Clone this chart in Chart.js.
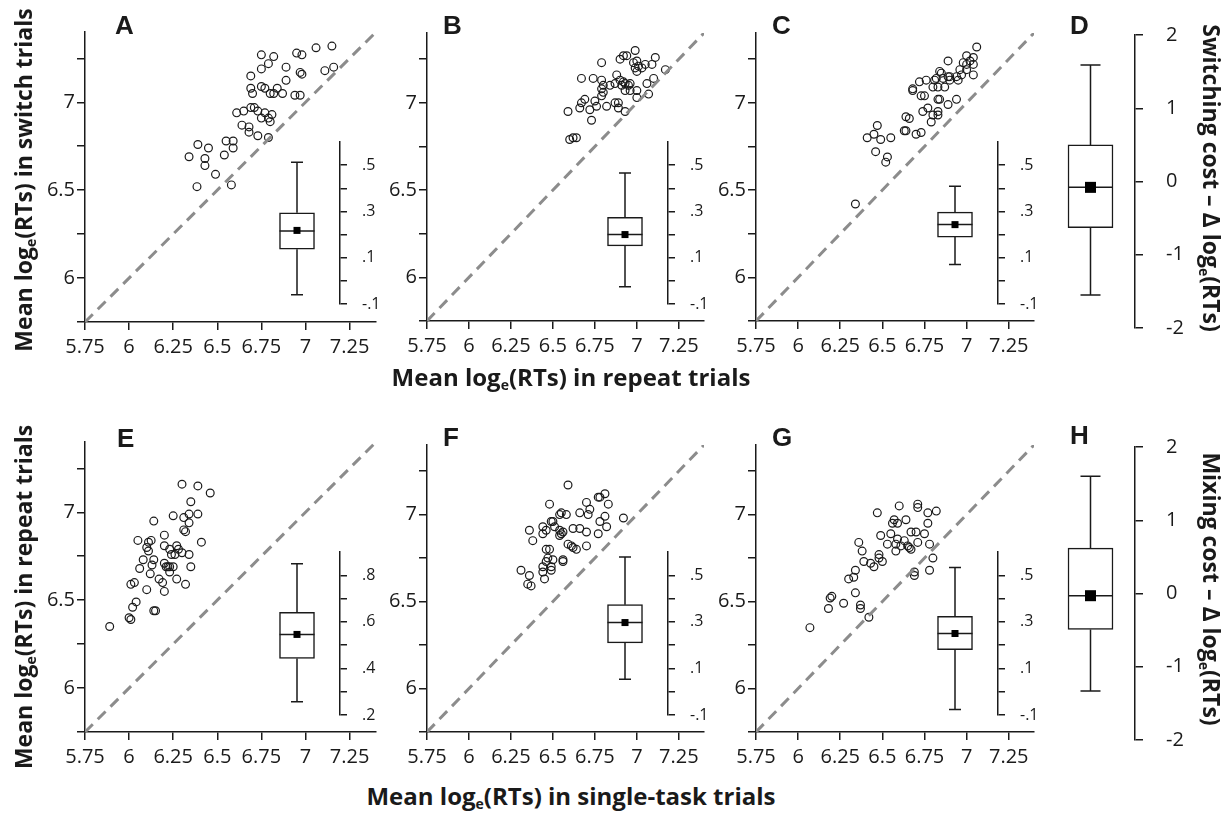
<!DOCTYPE html>
<html>
<head>
<meta charset="utf-8">
<script src="https://cdn.jsdelivr.net/npm/chart.js@4.4.1/dist/chart.umd.min.js"></script>
<style>
  body { margin: 0; background: #fff; width: 1230px; height: 814px; position: relative; overflow: hidden; font-family: 'Open Sans', sans-serif; color: #1a1a1a; }
  canvas { position: absolute; }
  .letter { position: absolute; font-family: 'Liberation Sans', Arial, sans-serif; font-weight: bold; font-size: 26px; line-height: 1; }
  .title { position: absolute; font-weight: bold; font-size: 23px; white-space: nowrap; line-height: 1.2; }
  .title.h { font-size: 24px; }
  .title sub { font-size: 14px; vertical-align: -4px; line-height: 0; }
</style>
</head>
<body>
<canvas id="pA"></canvas><canvas id="pB"></canvas><canvas id="pC"></canvas>
<canvas id="pE"></canvas><canvas id="pF"></canvas><canvas id="pG"></canvas>
<canvas id="iA"></canvas><canvas id="iB"></canvas><canvas id="iC"></canvas><canvas id="iD"></canvas>
<canvas id="iE"></canvas><canvas id="iF"></canvas><canvas id="iG"></canvas><canvas id="iH"></canvas>

<div class="letter" style="left:115px;top:12px">A</div>
<div class="letter" style="left:443px;top:12px">B</div>
<div class="letter" style="left:772px;top:12px">C</div>
<div class="letter" style="left:1070px;top:12px">D</div>
<div class="letter" style="left:117px;top:425px">E</div>
<div class="letter" style="left:443px;top:424px">F</div>
<div class="letter" style="left:772px;top:424px">G</div>
<div class="letter" style="left:1070px;top:422px">H</div>

<div class="title" style="left:24px;top:180px;transform:translate(-50%,-50%) rotate(-90deg)">Mean log<sub>e</sub>(RTs) in switch trials</div>
<div class="title" style="left:24px;top:597px;transform:translate(-50%,-50%) rotate(-90deg)">Mean log<sub>e</sub>(RTs) in repeat trials</div>
<div class="title h" style="left:571px;top:377px;transform:translate(-50%,-50%)">Mean log<sub>e</sub>(RTs) in repeat trials</div>
<div class="title h" style="left:571px;top:796px;transform:translate(-50%,-50%)">Mean log<sub>e</sub>(RTs) in single-task trials</div>
<div class="title" style="left:1211px;top:178px;transform:translate(-50%,-50%) rotate(90deg)">Switching cost &ndash; &Delta; log<sub>e</sub>(RTs)</div>
<div class="title" style="left:1211px;top:589px;transform:translate(-50%,-50%) rotate(90deg)">Mixing cost &ndash; &Delta; log<sub>e</sub>(RTs)</div>

<script>
// axis ticks of the scatter panels
const axisTicks = [5.75, 6, 6.25, 6.5, 6.75, 7, 7.25];
const yLabelled = [6, 6.5, 7];
const axisRange = [5.75, 7.4];

// [repeat, switch] per participant
const pointsA = [[6.75,7.27],[6.82,7.26],[6.95,7.28],[6.98,7.27],[7.06,7.31],[7.15,7.32],
  [6.79,7.22],[6.75,7.19],[6.89,7.20],[6.97,7.17],[6.98,7.16],[7.11,7.18],[7.16,7.20],
  [6.69,7.15],[6.89,7.125],[6.69,7.08],[6.70,7.05],[6.75,7.09],[6.77,7.08],[6.80,7.05],[6.82,7.05],[6.84,7.08],[6.87,7.05],[6.94,7.04],[6.97,7.04],
  [6.61,6.94],[6.65,6.95],[6.69,6.97],[6.71,6.97],[6.73,6.95],[6.77,6.94],[6.75,6.91],[6.79,6.91],[6.81,6.93],[6.80,6.89],
  [6.64,6.87],[6.68,6.86],[6.68,6.83],[6.73,6.81],[6.79,6.80],
  [6.55,6.78],[6.59,6.78],[6.59,6.74],[6.54,6.70],[6.39,6.76],[6.45,6.74],[6.34,6.69],[6.43,6.68],[6.43,6.64],[6.49,6.59],[6.58,6.53],[6.385,6.52]];
const pointsB = [[6.99,7.30],[6.92,7.27],[6.94,7.27],[6.90,7.25],[6.79,7.23],[6.98,7.23],[7.00,7.24],[7.05,7.22],[7.09,7.22],[7.11,7.26],
  [6.99,7.20],[7.01,7.21],[7.03,7.20],[7.00,7.18],[7.17,7.19],[7.10,7.14],[7.06,7.11],
  [6.67,7.14],[6.74,7.14],[6.79,7.13],[6.80,7.10],[6.79,7.08],[6.80,7.06],[6.79,7.04],
  [6.84,7.10],[6.87,7.11],[6.88,7.16],
  [6.90,7.13],[6.92,7.12],[6.91,7.10],[6.93,7.11],[6.96,7.11],[6.95,7.10],[6.93,7.07],[6.96,7.07],
  [7.00,7.07],[7.00,7.03],[7.07,7.05],
  [6.69,7.02],[6.67,7.00],[6.66,6.97],[6.75,7.01],[6.72,6.96],[6.76,6.98],[6.82,6.98],
  [6.87,7.00],[6.89,7.00],[6.89,6.97],[6.93,6.95],
  [6.59,6.95],[6.73,6.90],[6.60,6.79],[6.62,6.80],[6.64,6.80]];
const pointsC = [[7.06,7.32],
  [7.00,7.27],[7.04,7.26],[7.02,7.24],[6.98,7.23],[7.00,7.22],[6.96,7.19],[7.04,7.22],
  [6.89,7.24],[7.04,7.16],[7.00,7.19],
  [6.84,7.18],[6.85,7.17],[6.82,7.14],[6.81,7.13],[6.86,7.14],[6.89,7.15],[6.90,7.15],[6.94,7.15],[6.97,7.16],[6.90,7.13],[6.95,7.13],
  [6.68,7.08],[6.68,7.07],[6.72,7.12],[6.76,7.13],
  [6.80,7.09],[6.83,7.09],[6.87,7.09],
  [6.73,7.04],[6.75,7.04],[6.83,7.02],[6.84,7.02],[6.94,7.02],
  [6.89,6.99],
  [6.77,6.97],[6.74,6.95],[6.83,6.95],[6.80,6.93],[6.83,6.93],[6.79,6.89],
  [6.64,6.92],[6.66,6.91],
  [6.63,6.84],[6.64,6.84],[6.70,6.82],[6.73,6.83],
  [6.47,6.87],[6.45,6.82],[6.41,6.80],[6.49,6.79],[6.55,6.80],
  [6.46,6.72],[6.53,6.69],[6.52,6.66],
  [6.34,6.42]];
// [single-task, repeat] per participant
const pointsE = [[6.30,7.16],[6.39,7.15],[6.46,7.11],
  [6.35,7.06],
  [6.14,6.95],[6.25,6.98],[6.31,6.97],[6.34,6.99],[6.39,6.99],[6.34,6.94],
  [6.31,6.90],[6.32,6.89],
  [6.20,6.87],
  [6.05,6.84],[6.11,6.83],[6.125,6.84],[6.10,6.80],[6.11,6.78],[6.41,6.83],
  [6.20,6.81],[6.23,6.79],[6.27,6.81],[6.28,6.79],[6.24,6.76],[6.26,6.76],[6.30,6.77],[6.34,6.76],
  [6.08,6.73],[6.14,6.73],[6.13,6.70],[6.06,6.68],[6.12,6.65],
  [6.20,6.71],[6.21,6.69],[6.23,6.69],[6.25,6.69],[6.22,6.69],
  [6.35,6.69],[6.17,6.62],[6.19,6.60],[6.23,6.66],[6.27,6.62],[6.32,6.59],
  [6.01,6.59],[6.03,6.60],[6.10,6.56],[6.20,6.55],
  [6.04,6.49],[6.02,6.46],[6.00,6.40],[6.01,6.39],[6.14,6.44],[6.15,6.44],
  [5.89,6.35]];
const pointsF = [[6.59,7.17],
  [6.77,7.10],[6.78,7.10],[6.81,7.12],
  [6.48,7.06],[6.70,7.07],[6.72,7.03],[6.83,7.06],
  [6.54,7.00],[6.55,7.01],[6.58,7.00],[6.66,7.01],[6.71,7.00],[6.81,6.99],
  [6.49,6.96],[6.50,6.96],[6.44,6.93],[6.46,6.91],[6.51,6.93],[6.78,6.96],[6.82,6.93],
  [6.36,6.91],[6.38,6.85],[6.44,6.89],[6.54,6.91],[6.55,6.89],[6.56,6.90],[6.54,6.88],[6.62,6.92],[6.66,6.92],[6.70,6.90],[6.77,6.89],[6.92,6.98],
  [6.59,6.83],[6.61,6.82],[6.62,6.81],[6.64,6.80],[6.70,6.82],
  [6.46,6.80],[6.48,6.80],[6.47,6.75],[6.46,6.73],[6.50,6.74],[6.49,6.70],[6.56,6.74],[6.56,6.73],
  [6.31,6.68],[6.36,6.65],[6.35,6.60],[6.37,6.59],[6.44,6.70],[6.44,6.67],[6.45,6.63],[6.49,6.68]];
const pointsG = [[6.71,7.06],[6.71,7.04],[6.60,7.05],[6.47,7.01],[6.77,7.01],[6.82,7.02],
  [6.57,6.97],[6.59,6.95],[6.56,6.95],[6.64,6.97],[6.77,6.95],
  [6.49,6.88],[6.55,6.89],[6.59,6.86],[6.53,6.83],[6.58,6.83],[6.63,6.85],[6.67,6.90],[6.70,6.90],[6.75,6.89],[6.71,6.84],[6.78,6.83],
  [6.36,6.84],[6.38,6.79],[6.61,6.82],[6.58,6.79],[6.65,6.82],[6.67,6.80],[6.66,6.81],
  [6.39,6.73],[6.43,6.72],[6.48,6.77],[6.48,6.75],[6.50,6.73],[6.45,6.70],
  [6.80,6.75],[6.78,6.68],[6.69,6.67],[6.69,6.65],
  [6.34,6.68],[6.33,6.64],[6.30,6.63],
  [6.20,6.53],[6.19,6.52],[6.27,6.49],[6.18,6.46],[6.34,6.55],[6.37,6.48],[6.37,6.46],[6.42,6.41],
  [6.07,6.35]];

// box plots: [low whisker, q1, median, q3, high whisker]
const boxA = [-0.06, 0.137, 0.215, 0.294, 0.513];  const meanA = 0.218;
const boxB = [-0.026, 0.151, 0.20, 0.274, 0.466];  const meanB = 0.20;
const boxC = [0.071, 0.189, 0.243, 0.297, 0.409];  const meanC = 0.243;
const boxD = [-1.55, -0.63, -0.08, 0.50, 1.59];    const meanD = -0.08;
const boxE = [0.257, 0.443, 0.546, 0.641, 0.85];   const meanE = 0.546;
const boxF = [0.053, 0.21, 0.297, 0.374, 0.579];   const meanF = 0.297;
const boxG = [-0.076, 0.181, 0.25, 0.324, 0.533];  const meanG = 0.25;
const boxH = [-1.33, -0.49, -0.03, 0.62, 1.60];    const meanH = -0.03;

const insetMarks = [-0.1, 0, 0.1, 0.2, 0.3, 0.4, 0.5];
const insetLabels = [-0.1, 0.1, 0.3, 0.5];
const insetMarksE = [0.2, 0.3, 0.4, 0.5, 0.6, 0.7, 0.8];
const insetLabelsE = [0.2, 0.4, 0.6, 0.8];
const costTicks = [-2, -1, 0, 1, 2];

const INK = '#1a1a1a';
const fmt = v => String(+v.toFixed(2));
const fmtInset = v => v.toFixed(1).replace('0.', '.');
const near = (list, v) => list.some(t => Math.abs(t - v) < 1e-6);

const boxExtras = {
  id: 'boxExtras',
  afterDatasetsDraw(chart, args, o) {
    const { ctx, scales: { x, y } } = chart;
    const cx = x.getPixelForValue(0);
    const [lo, q1, med, q3, hi] = o.stats;
    ctx.save();
    ctx.strokeStyle = INK;
    ctx.lineWidth = 1.5;
    ctx.beginPath();
    ctx.moveTo(cx, y.getPixelForValue(q3)); ctx.lineTo(cx, y.getPixelForValue(hi));
    ctx.moveTo(cx - o.cap / 2, y.getPixelForValue(hi)); ctx.lineTo(cx + o.cap / 2, y.getPixelForValue(hi));
    ctx.moveTo(cx, y.getPixelForValue(q1)); ctx.lineTo(cx, y.getPixelForValue(lo));
    ctx.moveTo(cx - o.cap / 2, y.getPixelForValue(lo)); ctx.lineTo(cx + o.cap / 2, y.getPixelForValue(lo));
    ctx.moveTo(cx - o.boxW / 2, y.getPixelForValue(med)); ctx.lineTo(cx + o.boxW / 2, y.getPixelForValue(med));
    ctx.stroke();
    ctx.fillStyle = '#000';
    const m = o.mark, my = y.getPixelForValue(o.mean);
    ctx.fillRect(cx - m / 2, my - m / 2, m, m);
    ctx.restore();
  }
};

function place(cv, left, top, w, h) {
  cv.style.left = left + 'px'; cv.style.top = top + 'px';
  cv.width = w; cv.height = h;
}

function scatterPanel(id, pts, L, T, R, B) {
  const cv = document.getElementById(id);
  const left = L - 85, top = T - 32;
  place(cv, left, top, R - left + 14, B - top + 45);
  new Chart(cv, {
    type: 'scatter',
    data: {
      datasets: [
        { type: 'line', data: axisRange.map(v => ({ x: v, y: v })), borderColor: '#8c8c8c', borderWidth: 3,
          borderDash: [11, 7], pointRadius: 0, fill: false },
        { data: pts.map(p => ({ x: p[0], y: p[1] })), pointRadius: 3.9, borderWidth: 1.2,
          borderColor: INK, backgroundColor: 'rgba(0,0,0,0)' }
      ]
    },
    options: {
      responsive: false, animation: false, events: [],
      layout: { padding: { left: 0, top: 32, right: 14, bottom: 0 } },
      plugins: { legend: { display: false }, tooltip: { enabled: false } },
      scales: {
        x: {
          type: 'linear', min: axisRange[0], max: axisRange[1],
          afterBuildTicks: s => { s.ticks = axisTicks.map(v => ({ value: v })); },
          afterFit: s => { s.height = 45; },
          ticks: { callback: v => fmt(v), font: { family: 'Open Sans', size: 20 }, color: INK, padding: 5, maxRotation: 0, autoSkip: false },
          grid: { drawOnChartArea: false, tickLength: 8, color: INK, lineWidth: 1.5 },
          border: { color: INK, width: 1.5 }
        },
        y: {
          type: 'linear', min: axisRange[0], max: axisRange[1],
          afterBuildTicks: s => { s.ticks = axisTicks.map(v => ({ value: v })); },
          afterFit: s => { s.width = 85; },
          ticks: { callback: v => near(yLabelled, v) ? fmt(v) : '', font: { family: 'Open Sans', size: 20 }, color: INK, padding: 2, autoSkip: false },
          grid: { drawOnChartArea: false, tickLength: 8, color: INK, lineWidth: 1.5 },
          border: { color: INK, width: 1.5 }
        }
      }
    }
  });
}

// vertical padding large enough to hold tick label overflow + tick padding
const VPAD = 48;

function boxPanel(id, axisX, yTop, yBot, range, marks, labels, stats, mean, st) {
  const cv = document.getElementById(id);
  place(cv, axisX - st.areaW, Math.round(yTop) - VPAD, st.areaW + st.scaleW, Math.round(yBot) - Math.round(yTop) + 2 * VPAD);
  new Chart(cv, {
    type: 'bar',
    data: {
      labels: ['cost'],
      datasets: [{ data: [[stats[1], stats[3]]], backgroundColor: '#fff', borderColor: INK, borderWidth: 1.5,
        borderSkipped: false, barThickness: st.boxW }]
    },
    options: {
      responsive: false, animation: false, events: [],
      layout: { padding: { left: 0, top: VPAD, right: 0, bottom: VPAD } },
      plugins: { legend: { display: false }, tooltip: { enabled: false },
        boxExtras: { stats, mean, cap: st.cap, boxW: st.boxW, mark: st.mark } },
      scales: {
        x: { display: false },
        y: {
          position: 'right', min: range[0], max: range[1],
          afterBuildTicks: s => { s.ticks = marks.map(v => ({ value: v })); },
          afterFit: s => { s.width = st.scaleW; },
          ticks: { callback: v => near(labels, v) ? st.fmt(v) : '', font: { family: 'Open Sans', size: st.font }, color: INK, padding: st.pad, autoSkip: false },
          grid: { drawOnChartArea: false, tickLength: st.tick, color: INK, lineWidth: 1.5 },
          border: { color: INK, width: 1.5 }
        }
      }
    },
    plugins: [boxExtras]
  });
}

const insetStyle = { areaW: 86, scaleW: 50, boxW: 35, cap: 12, mark: 7, font: 16, pad: 15, tick: 7, fmt: fmtInset };
const costStyle = { areaW: 89, scaleW: 75, boxW: 45, cap: 20, mark: 11, font: 20, pad: 23, tick: 8, fmt: v => String(v) };

scatterPanel('pA', pointsA, 85, 32, 376, 322);
scatterPanel('pB', pointsB, 427, 33, 704, 321);
scatterPanel('pC', pointsC, 756, 33, 1034, 321);
scatterPanel('pE', pointsE, 85, 442, 376, 732);
scatterPanel('pF', pointsF, 427, 445, 704, 732);
scatterPanel('pG', pointsG, 756, 445, 1034, 732);

boxPanel('iA', 340, 142, 304, [-0.1, 0.6], insetMarks, insetLabels, boxA, meanA, insetStyle);
boxPanel('iB', 668, 142, 304, [-0.1, 0.6], insetMarks, insetLabels, boxB, meanB, insetStyle);
boxPanel('iC', 998, 142, 304, [-0.1, 0.6], insetMarks, insetLabels, boxC, meanC, insetStyle);
boxPanel('iE', 340, 552, 715, [0.2, 0.9], insetMarksE, insetLabelsE, boxE, meanE, insetStyle);
boxPanel('iF', 668, 552, 715, [-0.1, 0.6], insetMarks, insetLabels, boxF, meanF, insetStyle);
boxPanel('iG', 998, 552, 715, [-0.1, 0.6], insetMarks, insetLabels, boxG, meanG, insetStyle);
boxPanel('iD', 1135, 35, 328, [-2, 2], costTicks, costTicks, boxD, meanD, costStyle);
boxPanel('iH', 1135, 447, 740, [-2, 2], costTicks, costTicks, boxH, meanH, costStyle);
</script>
</body>
</html>
